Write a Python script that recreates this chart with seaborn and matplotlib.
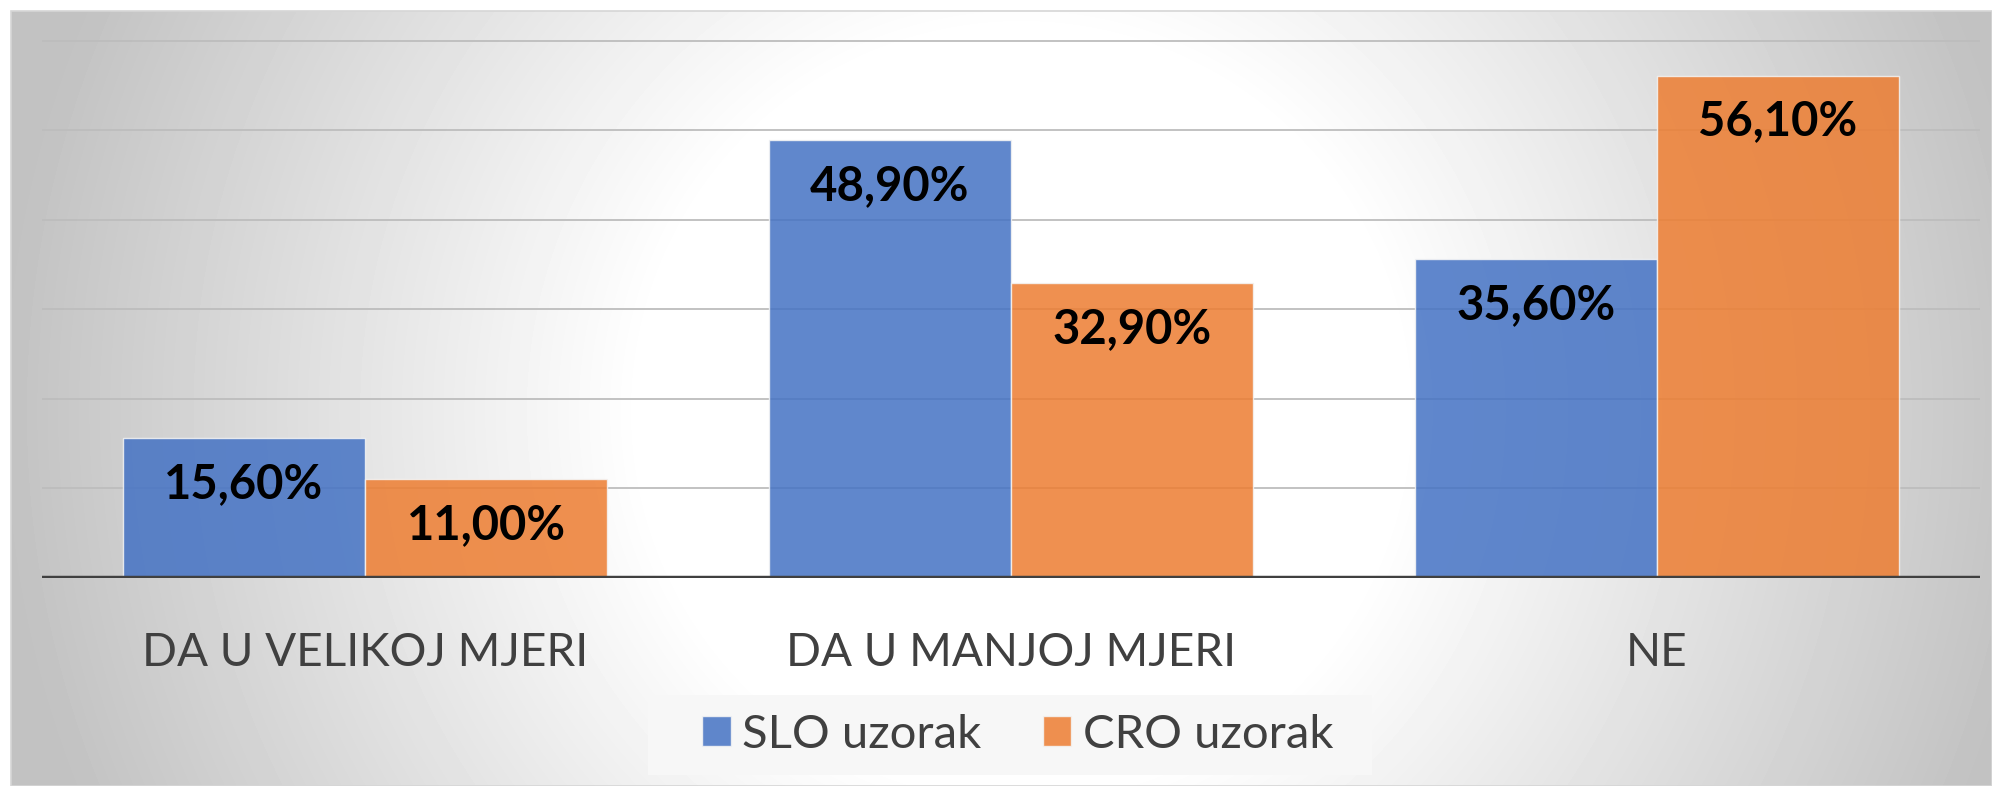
import numpy as np
import pandas as pd
import seaborn as sns
import matplotlib.pyplot as plt
from matplotlib.patches import Rectangle

# podaci
categories = ["DA U VELIKOJ MJERI", "DA U MANJOJ MJERI", "NE"]
series = ["SLO uzorak", "CRO uzorak"]
slo_values = [15.6, 48.9, 35.6]
cro_values = [11.0, 32.9, 56.1]
colors = ["#4472C4", "#ED7D31"]

df = pd.DataFrame({
    "odgovor": categories * 2,
    "uzorak": [series[0]] * len(categories) + [series[1]] * len(categories),
    "postotak": slo_values + cro_values,
})

sns.set_theme(style="white")
plt.rcParams["font.family"] = ["Lato", "DejaVu Sans"]

W, H = 1992, 786
fig = plt.figure(figsize=(W / 100, H / 100), dpi=100)
fig.patch.set_facecolor("white")

# radijalna pozadina
bg = fig.add_axes([11 / W, 0, (W - 11) / W, (H - 11) / H])
yy, xx = np.mgrid[0:H - 11, 0:W - 11]
d = np.hypot(xx - 1010, yy - 400)
t = np.clip((d - 380) / 640, 0, 1)
bg.imshow(1 - 0.24 * t, cmap="gray", vmin=0, vmax=1, aspect="auto")
bg.set_axis_off()
bg.add_patch(Rectangle((0, 0), 1, 1, transform=bg.transAxes, fill=False,
                       edgecolor="#d6d6d6", lw=1.2, clip_on=False))
# pozadina legende
bg.add_patch(Rectangle((648 / W, (H - 775) / H), 724 / W, 80 / H,
                       transform=fig.transFigure, facecolor="#f7f7f7",
                       edgecolor="none", zorder=3, clip_on=False))

top_px = 40.6
base_px = 578
ymax = 60.5
ax_h = (base_px - top_px) / 60 * ymax
ax = fig.add_axes([42 / W, (H - base_px) / H, (1980 - 42) / W, ax_h / H])
ax.set_facecolor("none")

sns.barplot(data=df, x="odgovor", y="postotak", hue="uzorak", palette=colors,
            saturation=1, width=0.75, alpha=0.85, edgecolor="#f4f4f4",
            linewidth=1.0, ax=ax, zorder=2)

ax.set_ylim(0, ymax)
ax.set_yticks(range(0, 61, 10))
ax.yaxis.grid(True, color="#bdbdbd", lw=1.3)
ax.set_axisbelow(True)
ax.tick_params(axis="y", left=False, labelleft=False)
ax.tick_params(axis="x", bottom=False, labelsize=33, labelcolor="#404040", pad=33)
ax.set_xlabel("")
ax.set_ylabel("")
for s in ax.spines.values():
    s.set_visible(False)
ax.axhline(0, color="#404040", lw=3.2, zorder=3)

for cont in ax.containers:
    for bar in cont:
        v = bar.get_height()
        ax.annotate(f"{v:.2f}%".replace(".", ","),
                    (bar.get_x() + bar.get_width() / 2, v),
                    xytext=(0, -33), textcoords="offset points",
                    ha="center", va="center", fontsize=34,
                    fontweight="bold", color="black", zorder=4)

sns.move_legend(ax, "center", bbox_to_anchor=(1018 / W, (H - 735) / H),
                bbox_transform=fig.transFigure, ncol=2, frameon=False,
                title=None, fontsize=34, handlelength=0.6, handleheight=0.6,
                handletextpad=0.25, columnspacing=1.3)
for txt in ax.get_legend().get_texts():
    txt.set_color("#404040")

fig.savefig("out.png", dpi=100)
